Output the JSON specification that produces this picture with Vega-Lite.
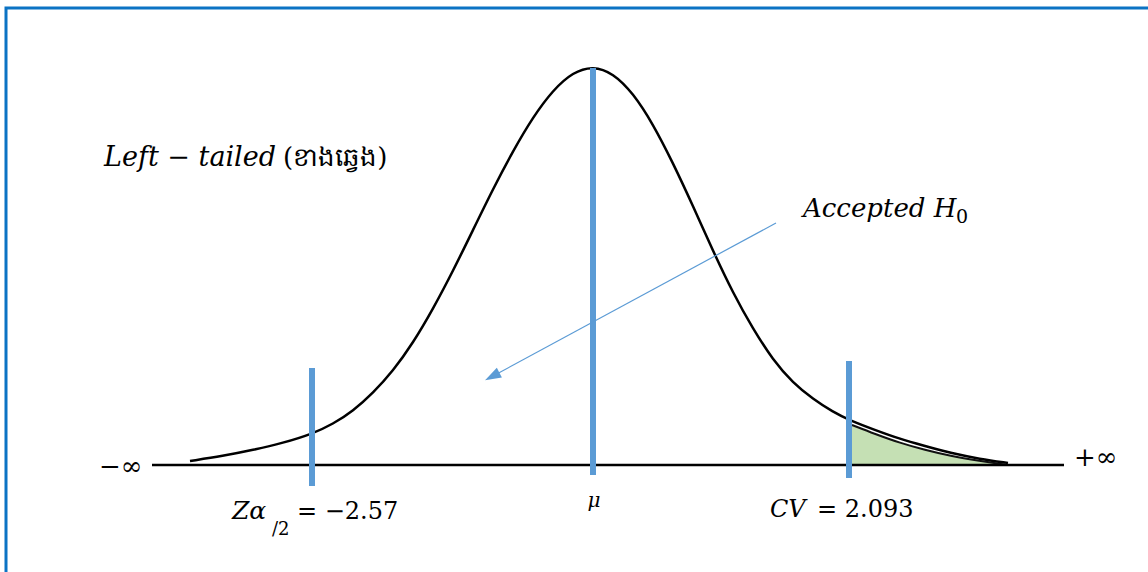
{
  "$schema": "https://vega.github.io/schema/vega-lite/v6.json",
  "width": 1148,
  "height": 572,
  "autosize": {"type": "none"},
  "padding": 0,
  "background": "white",
  "config": {"view": {"stroke": null}},
  "datasets": {
    "curve": [
      {"x": 190, "h": 4}, {"x": 223, "h": 9}, {"x": 253, "h": 15}, {"x": 283, "h": 22},
      {"x": 312, "h": 31}, {"x": 333, "h": 41}, {"x": 353, "h": 54}, {"x": 373, "h": 72},
      {"x": 393, "h": 94}, {"x": 413, "h": 122}, {"x": 433, "h": 156}, {"x": 453, "h": 194},
      {"x": 473, "h": 235}, {"x": 493, "h": 276}, {"x": 513, "h": 314}, {"x": 533, "h": 348},
      {"x": 553, "h": 375}, {"x": 573, "h": 393}, {"x": 593, "h": 399}, {"x": 613, "h": 392},
      {"x": 633, "h": 372}, {"x": 653, "h": 341}, {"x": 673, "h": 302}, {"x": 693, "h": 259},
      {"x": 713, "h": 214}, {"x": 733, "h": 172}, {"x": 753, "h": 136}, {"x": 773, "h": 105},
      {"x": 793, "h": 82}, {"x": 813, "h": 66}, {"x": 833, "h": 53}, {"x": 849, "h": 45},
      {"x": 875, "h": 35}, {"x": 900, "h": 26}, {"x": 925, "h": 19}, {"x": 950, "h": 12},
      {"x": 980, "h": 6}, {"x": 1008, "h": 2}
    ],
    "tail": [
      {"x": 852, "h": 40}, {"x": 875, "h": 31}, {"x": 900, "h": 22}, {"x": 925, "h": 15},
      {"x": 950, "h": 9}, {"x": 980, "h": 4}, {"x": 1005, "h": 0.5}
    ],
    "markers": [
      {"name": "z", "x": 312, "top": 97, "bottom": -21},
      {"name": "mu", "x": 593, "top": 397, "bottom": -10},
      {"name": "cv", "x": 849, "top": 104, "bottom": -13}
    ]
  },
  "layer": [
    {
      "data": {"values": [{"x0": 6, "x1": 1200, "top": 457, "bottom": -200}]},
      "mark": {"type": "rect", "fill": null, "stroke": "#0B73C4", "strokeWidth": 3},
      "encoding": {
        "x": {"field": "x0", "type": "quantitative", "scale": {"domain": [0, 1148], "nice": false, "zero": false}, "axis": null},
        "x2": {"field": "x1"},
        "y": {"field": "top", "type": "quantitative", "scale": {"domain": [-107, 465], "nice": false, "zero": false}, "axis": null},
        "y2": {"field": "bottom"}
      }
    },
    {
      "data": {"name": "tail"},
      "mark": {"type": "area", "color": "#C5E0B4", "interpolate": "basis"},
      "encoding": {
        "x": {"field": "x", "type": "quantitative"},
        "y": {"field": "h", "type": "quantitative"},
        "y2": {"datum": 0}
      }
    },
    {
      "data": {"name": "tail"},
      "mark": {"type": "line", "color": "#111111", "strokeWidth": 2, "interpolate": "basis"},
      "encoding": {
        "x": {"field": "x", "type": "quantitative"},
        "y": {"field": "h", "type": "quantitative"}
      }
    },
    {
      "data": {"name": "curve"},
      "mark": {"type": "line", "color": "black", "strokeWidth": 2.5, "interpolate": "basis"},
      "encoding": {
        "x": {"field": "x", "type": "quantitative"},
        "y": {"field": "h", "type": "quantitative"}
      }
    },
    {
      "data": {"values": [{"from": 152, "to": 1064, "h": 0}]},
      "mark": {"type": "rule", "color": "black", "strokeWidth": 2.5},
      "encoding": {
        "x": {"field": "from", "type": "quantitative"},
        "x2": {"field": "to"},
        "y": {"field": "h", "type": "quantitative"}
      }
    },
    {
      "data": {"name": "markers"},
      "mark": {"type": "rule", "color": "#5B9BD5", "strokeWidth": 6},
      "encoding": {
        "x": {"field": "x", "type": "quantitative"},
        "y": {"field": "top", "type": "quantitative"},
        "y2": {"field": "bottom"}
      }
    },
    {
      "data": {"values": [{"x": 776, "h": 242, "end": 493, "h2": 89}]},
      "mark": {"type": "rule", "color": "#5B9BD5", "strokeWidth": 1.2},
      "encoding": {
        "x": {"field": "x", "type": "quantitative"},
        "y": {"field": "h", "type": "quantitative"},
        "x2": {"field": "end"},
        "y2": {"field": "h2"}
      }
    },
    {
      "data": {"values": [{"x": 493, "h": 89}]},
      "mark": {"type": "point", "shape": "M0,-1L0.6,0.8L-0.6,0.8Z", "size": 324, "angle": 242, "filled": true, "color": "#5B9BD5", "opacity": 1},
      "encoding": {
        "x": {"field": "x", "type": "quantitative"},
        "y": {"field": "h", "type": "quantitative"}
      }
    },
    {
      "data": {"values": [{"label": "Left − tailed", "x": 104, "h": 299}]},
      "mark": {"type": "text", "align": "left", "baseline": "alphabetic", "font": "DejaVu Serif", "fontStyle": "italic", "fontSize": 27, "color": "black"},
      "encoding": {
        "x": {"field": "x", "type": "quantitative"},
        "y": {"field": "h", "type": "quantitative"},
        "text": {"field": "label"}
      }
    },
    {
      "data": {"values": [{"label": "Accepted H", "x": 803, "h": 248}]},
      "mark": {"type": "text", "align": "left", "baseline": "alphabetic", "font": "DejaVu Serif", "fontStyle": "italic", "fontSize": 26, "color": "black"},
      "encoding": {
        "x": {"field": "x", "type": "quantitative"},
        "y": {"field": "h", "type": "quantitative"},
        "text": {"field": "label"}
      }
    },
    {
      "data": {"values": [{"label": "(ខាងឆ្វេង)", "x": 283, "h": 299}]},
      "mark": {"type": "text", "align": "left", "baseline": "alphabetic", "font": "DejaVu Serif", "fontSize": 26, "color": "black"},
      "encoding": {
        "x": {"field": "x", "type": "quantitative"},
        "y": {"field": "h", "type": "quantitative"},
        "text": {"field": "label"}
      }
    },
    {
      "data": {"values": [{"label": "0", "x": 956, "h": 242}]},
      "mark": {"type": "text", "align": "left", "baseline": "alphabetic", "font": "DejaVu Serif", "fontSize": 19, "color": "black"},
      "encoding": {
        "x": {"field": "x", "type": "quantitative"},
        "y": {"field": "h", "type": "quantitative"},
        "text": {"field": "label"}
      }
    },
    {
      "data": {"values": [{"label": "Zα", "x": 232, "h": -54}]},
      "mark": {"type": "text", "align": "left", "baseline": "alphabetic", "font": "DejaVu Serif", "fontStyle": "italic", "fontSize": 25, "color": "black"},
      "encoding": {
        "x": {"field": "x", "type": "quantitative"},
        "y": {"field": "h", "type": "quantitative"},
        "text": {"field": "label"}
      }
    },
    {
      "data": {"values": [{"label": "/2", "x": 272, "h": -70}]},
      "mark": {"type": "text", "align": "left", "baseline": "alphabetic", "font": "DejaVu Serif", "fontSize": 18, "color": "black"},
      "encoding": {
        "x": {"field": "x", "type": "quantitative"},
        "y": {"field": "h", "type": "quantitative"},
        "text": {"field": "label"}
      }
    },
    {
      "data": {"values": [
        {"label": "= −2.57", "x": 297, "h": -54},
        {"label": "= 2.093", "x": 817, "h": -52}
      ]},
      "mark": {"type": "text", "align": "left", "baseline": "alphabetic", "font": "DejaVu Serif", "fontSize": 24, "color": "black"},
      "encoding": {
        "x": {"field": "x", "type": "quantitative"},
        "y": {"field": "h", "type": "quantitative"},
        "text": {"field": "label"}
      }
    },
    {
      "data": {"values": [
        {"label": "−∞", "x": 99, "h": -10},
        {"label": "+∞", "x": 1074, "h": -1}
      ]},
      "mark": {"type": "text", "align": "left", "baseline": "alphabetic", "font": "DejaVu Serif", "fontSize": 26, "color": "black"},
      "encoding": {
        "x": {"field": "x", "type": "quantitative"},
        "y": {"field": "h", "type": "quantitative"},
        "text": {"field": "label"}
      }
    },
    {
      "data": {"values": [{"label": "CV", "x": 770, "h": -52}]},
      "mark": {"type": "text", "align": "left", "baseline": "alphabetic", "font": "DejaVu Serif", "fontStyle": "italic", "fontSize": 24, "color": "black"},
      "encoding": {
        "x": {"field": "x", "type": "quantitative"},
        "y": {"field": "h", "type": "quantitative"},
        "text": {"field": "label"}
      }
    },
    {
      "data": {"values": [{"label": "μ", "x": 594, "h": -42}]},
      "mark": {"type": "text", "align": "center", "baseline": "alphabetic", "font": "DejaVu Serif", "fontStyle": "italic", "fontSize": 20, "color": "black"},
      "encoding": {
        "x": {"field": "x", "type": "quantitative"},
        "y": {"field": "h", "type": "quantitative"},
        "text": {"field": "label"}
      }
    }
  ]
}
